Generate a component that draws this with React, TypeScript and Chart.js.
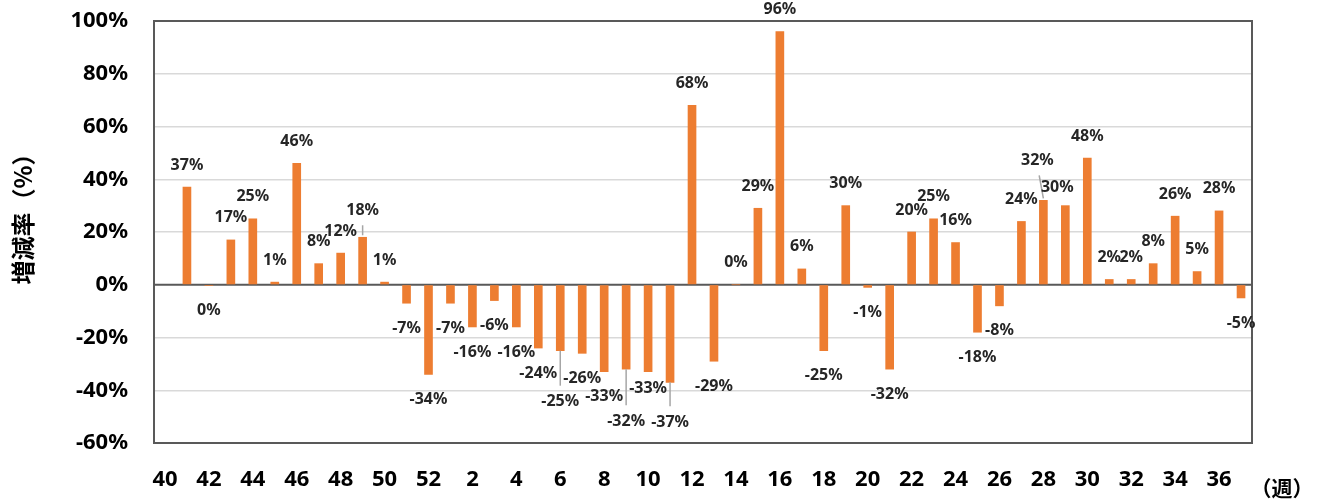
import React, { useEffect, useRef } from "react";
import { Chart, registerables } from "chart.js";

Chart.register(...registerables);

// Week labels (fiscal-year order: week 40 .. 52, then 1 .. 37)
const weeks: string[] = [
  "40", "41", "42", "43", "44", "45", "46", "47", "48", "49", "50", "51", "52",
  "1", "2", "3", "4", "5", "6", "7", "8", "9", "10", "11", "12", "13", "14", "15",
  "16", "17", "18", "19", "20", "21", "22", "23", "24", "25", "26", "27", "28",
  "29", "30", "31", "32", "33", "34", "35", "36", "37",
];

// Growth rate (%) per week
const growthRates: (number | null)[] = [
  null, 37, -0.3, 17, 25, 1, 46, 8, 12, 18, 1, -7, -34,
  -7, -16, -6, -16, -24, -25, -26, -33, -32, -33, -37, 68, -29, 0, 29,
  96, 6, -25, 30, -1, -32, 20, 25, 16, -18, -8, 24, 32,
  30, 48, 2, 2, 8, 26, 5, 28, -5,
];

const yTicks: number[] = [-60, -40, -20, 0, 20, 40, 60, 80, 100];

const yTitle = "増減率（%）";
const xUnit = "（週）";

// Manual label nudges (dx, dy) as in the original, and weeks whose labels have leader lines
const labelNudges: Record<string, [number, number]> = {
  "49": [0, -5],
  "6": [0, 26],
  "9": [0, 27],
  "10": [0, -8],
  "11": [0, 15],
  "28": [-6, -18],
  "29": [-8, 4],
};
const leaderWeeks: string[] = ["49", "6", "9", "11", "28"];

const BAR_COLOR = "#ED7D31";
const FONT = "'Noto Sans', 'DejaVu Sans', sans-serif";
const CJK = "'Noto Sans CJK JP', 'Noto Sans', sans-serif";

export default function App() {
  const canvasRef = useRef<HTMLCanvasElement | null>(null);

  useEffect(() => {
    const canvas = canvasRef.current;
    if (!canvas) return;

    const decorPlugin = {
      id: "decor",
      beforeDatasetsDraw(chart: any) {
        const { ctx, chartArea, scales } = chart;
        const y0 = scales.y.getPixelForValue(0);
        ctx.save();
        ctx.strokeStyle = "#595959";
        ctx.lineWidth = 2;
        ctx.beginPath();
        ctx.moveTo(chartArea.left, y0);
        ctx.lineTo(chartArea.right, y0);
        ctx.stroke();
        ctx.restore();
      },
      afterDatasetsDraw(chart: any) {
        const { ctx, chartArea, scales } = chart;
        const xs = scales.x;
        const ys = scales.y;
        ctx.save();
        // frame
        ctx.strokeStyle = "#595959";
        ctx.lineWidth = 2;
        ctx.strokeRect(
          chartArea.left,
          chartArea.top,
          chartArea.right - chartArea.left,
          chartArea.bottom - chartArea.top
        );

        // data labels
        ctx.font = `bold 16px ${FONT}`;
        ctx.textAlign = "center";
        ctx.textBaseline = "middle";
        growthRates.forEach((v, i) => {
          if (v === null) return;
          const wk = weeks[i];
          const x = xs.getPixelForValue(i);
          const yEnd = ys.getPixelForValue(v);
          const pos = v >= 0;
          const nudge = labelNudges[wk] || [0, 0];
          const lx = x + nudge[0];
          const ly = (pos ? yEnd - 22 : yEnd + 25) + nudge[1];
          if (leaderWeeks.includes(wk)) {
            ctx.strokeStyle = "#a6a6a6";
            ctx.lineWidth = 1.5;
            ctx.beginPath();
            if (pos) {
              ctx.moveTo(x, yEnd - 2);
              ctx.lineTo(lx + (x - lx) * 0.3, ly + 15);
            } else {
              ctx.moveTo(x, yEnd);
              ctx.lineTo(lx, ly - 16);
            }
            ctx.stroke();
          }
          const r = Math.round(v);
          const txt = `${r === 0 ? 0 : r}%`;
          ctx.fillStyle = "#262626";
          ctx.fillText(txt, lx, ly);
        });

        // axis title (rotated)
        ctx.fillStyle = "#000";
        ctx.font = `bold 24px ${CJK}`;
        ctx.translate(23, 213);
        ctx.rotate(-Math.PI / 2);
        ctx.textAlign = "center";
        ctx.textBaseline = "middle";
        ctx.fillText(yTitle, 0, 0);
        ctx.setTransform(1, 0, 0, 1, 0, 0);

        // unit label
        ctx.font = `bold 21px ${CJK}`;
        ctx.textAlign = "center";
        ctx.textBaseline = "middle";
        ctx.fillText(xUnit, 1282, 488);
        ctx.restore();
      },
    };

    const chart = new Chart(canvas, {
      type: "bar",
      data: {
        labels: weeks,
        datasets: [
          {
            data: growthRates,
            backgroundColor: BAR_COLOR,
            borderWidth: 0,
            barThickness: 8,
          },
        ],
      },
      options: {
        animation: false,
        responsive: false,
        devicePixelRatio: 1,
        layout: { padding: { left: 0, right: 67, top: 21, bottom: 0 } },
        plugins: {
          legend: { display: false },
          tooltip: { enabled: false },
        },
        scales: {
          x: {
            grid: { display: false, drawTicks: false },
            border: { display: false },
            ticks: {
              autoSkip: false,
              maxRotation: 0,
              minRotation: 0,
              padding: 24,
              color: "#000",
              font: { family: FONT, size: 22, weight: "bold" },
              callback: (_v: any, idx: number) => (idx % 2 === 0 ? weeks[idx] : ""),
            },
            afterFit: (scale: any) => {
              scale.height = 56;
              scale.paddingLeft = 0;
              scale.paddingRight = 0;
              scale.paddingTop = 0;
              scale.paddingBottom = 0;
            },
          },
          y: {
            min: -60,
            max: 100,
            afterBuildTicks: (scale: any) => {
              scale.ticks = yTicks.map((v) => ({ value: v }));
            },
            grid: {
              drawTicks: false,
              lineWidth: 1.5,
              color: (c: any) => (c.tick && c.tick.value === 0 ? "rgba(0,0,0,0)" : "#d9d9d9"),
            },
            border: { display: false },
            ticks: {
              padding: 26,
              color: "#000",
              font: { family: FONT, size: 22, weight: "bold" },
              callback: (v: any) => `${v}%`,
            },
            afterFit: (scale: any) => {
              scale.width = 154;
              scale.paddingTop = 0;
              scale.paddingBottom = 0;
              scale.paddingLeft = 0;
              scale.paddingRight = 0;
            },
          },
        },
      },
      plugins: [decorPlugin],
    });

    return () => {
      chart.destroy();
    };
  }, []);

  return (
    <div style={{ position: "absolute", left: 0, top: 0, width: 1319, height: 499, background: "#fff" }}>
      <canvas ref={canvasRef} width={1319} height={499} style={{ display: "block" }} />
    </div>
  );
}
